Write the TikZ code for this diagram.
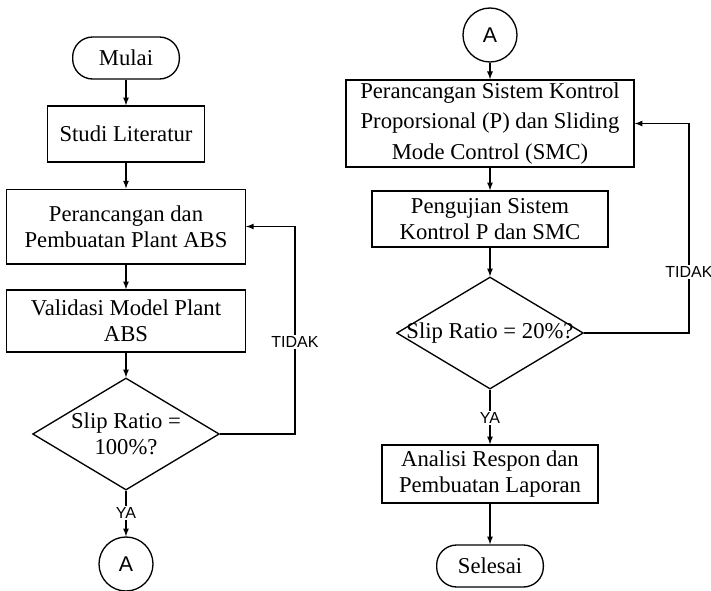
\documentclass[tikz,border=0pt]{standalone}
\usepackage{fontspec}
\setmainfont{Liberation Serif}
\newfontfamily\labelfont{Liberation Sans}
\usetikzlibrary{arrows}
\usetikzlibrary{shapes.geometric}
\usetikzlibrary{math}

\tikzset{
  kotak/.style={draw, rectangle, align=center, inner sep=2pt, font=\fontsize{17}{19.5}\selectfont},
  terminal/.style={draw, rectangle, rounded corners=15pt, minimum width=80pt, minimum height=31.5pt, font=\fontsize{17}{19.5}\selectfont},
  keputusan/.style={draw, diamond, aspect=1.67, inner sep=0pt, minimum width=140pt, minimum height=84pt, align=center, font=\fontsize{17}{19.5}\selectfont},
  konektor/.style={draw, circle, inner sep=0pt, minimum size=40.5pt, font=\labelfont\fontsize{16}{16}\selectfont},
  ket/.style={fill=white, inner sep=1pt, font=\labelfont\fontsize{12}{12}\selectfont},
  panah/.style={-latex, line width=1pt},
}

\begin{document}
\begin{tikzpicture}[x=0.75pt, y=-0.75pt, line width=1pt]
\tikzmath{
\xa=126;
\xb=490;
}
\useasboundingbox (0,0) rectangle (711,590);

% kolom kiri
\node[terminal] (mulai) at (\xa,58) {Mulai};
\node[kotak, minimum width=117.75pt, minimum height=42pt] (studi) at (\xa,134) {Studi Literatur};
\node[kotak, minimum width=179pt, minimum height=56pt] (rancang) at (\xa,226.5) {Perancangan dan\\Pembuatan Plant ABS};
\node[kotak, minimum width=179pt, minimum height=46.5pt] (validasi) at (\xa,321) {Validasi Model Plant\\ABS};
\node[keputusan] (cek1) at (\xa,434) {Slip Ratio =\\100\%?};
\node[konektor] (a1) at (\xa,564) {A};

\draw[panah] (mulai) -- (studi);
\draw[panah] (studi) -- (rancang);
\draw[panah] (rancang) -- (validasi);
\draw[panah] (validasi) -- (cek1);
\draw[panah] (cek1) -- (a1);
\coordinate (b1) at (295,434);
\draw[panah] (cek1.east) -- (b1) |- (rancang.east);
\node[ket] (tidak1) at (295,342) {TIDAK};
\node[ket] (ya1) at (\xa,513) {YA};

% kolom kanan
\node[konektor] (a2) at (\xb,35) {A};
\node[kotak, minimum width=216pt, minimum height=62pt, font=\fontsize{17}{23}\selectfont] (rancang2) at (\xb,123.5) {Perancangan Sistem Kontrol\\Proporsional (P) dan Sliding\\Mode Control (SMC)};
\node[kotak, minimum width=177pt, minimum height=42pt] (uji) at (\xb,219) {Pengujian Sistem\\Kontrol P dan SMC};
\node[keputusan] (cek2) at (\xb,333) {\makebox[0pt]{Slip Ratio = 20\%?}};
\node[kotak, minimum width=162pt, minimum height=43.5pt] (analisi) at (\xb,474) {Analisi Respon dan\\Pembuatan Laporan};
\node[terminal] (selesai) at (\xb,566) {Selesai};

\draw[panah] (a2) -- (rancang2);
\draw[panah] (rancang2) -- (uji);
\draw[panah] (uji) -- (cek2);
\draw[panah] (cek2) -- (analisi);
\draw[panah] (analisi) -- (selesai);
\coordinate (b2) at (689,333);
\draw[panah] (cek2.east) -- (b2) |- (rancang2.east);
\node[ket] (tidak2) at (689,272) {TIDAK};
\node[ket] (ya2) at (\xb,418) {YA};
\end{tikzpicture}
\end{document}
